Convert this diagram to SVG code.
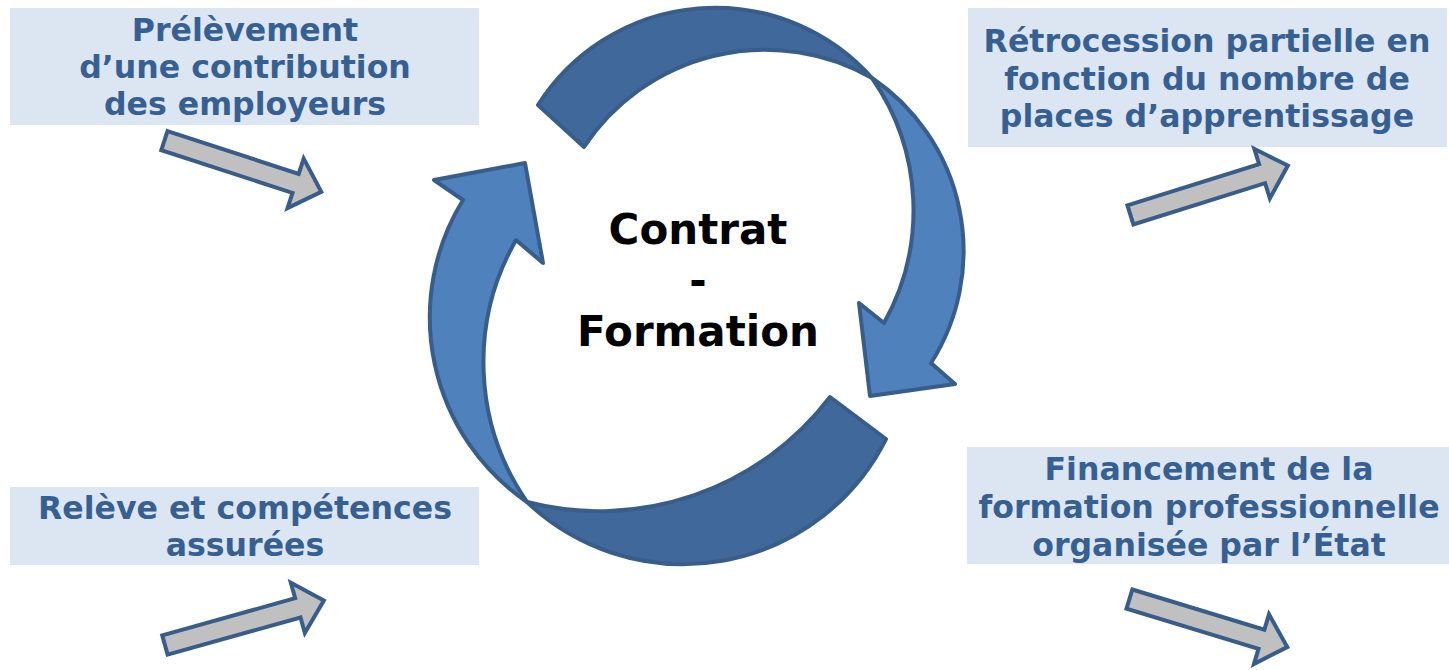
<svg xmlns="http://www.w3.org/2000/svg" width="1449" height="670" viewBox="0 0 1449 670">
<style>
.box{fill:#dce6f2}
.bt{font-family:"DejaVu Sans","Verdana",sans-serif;font-weight:bold;font-size:31.6px;fill:#376092;text-anchor:middle}
.ct{font-family:"DejaVu Sans","Verdana",sans-serif;font-weight:bold;font-size:42px;fill:#000;text-anchor:middle}
.dark{fill:#41689b;stroke:#385d8a;stroke-width:4;stroke-linejoin:round}
.light{fill:#4f81bd;stroke:#385d8a;stroke-width:4;stroke-linejoin:round}
.ga{fill:#c0c0c0;stroke:#385d8a;stroke-width:4;stroke-linejoin:miter}
</style>
<defs>
<path id="blk" d="M2,-10 L140,-10 L140,-26 L167,0 L140,26 L140,10 L2,10 Z"/>
</defs>
<g id="node-tl">
<rect class="box" x="10" y="8" width="469" height="117"/>
<text class="bt" x="245" y="41">Prélèvement</text>
<text class="bt" x="245" y="78">d’une contribution</text>
<text class="bt" x="245" y="115">des employeurs</text>
</g>
<g id="node-tr">
<rect class="box" x="968" y="8" width="479" height="139"/>
<text class="bt" x="1207" y="52">Rétrocession partielle en</text>
<text class="bt" x="1207" y="90">fonction du nombre de</text>
<text class="bt" x="1207" y="127">places d’apprentissage</text>
</g>
<g id="node-bl">
<rect class="box" x="10" y="487" width="469" height="78"/>
<text class="bt" x="245" y="519">Relève et compétences</text>
<text class="bt" x="245" y="556">assurées</text>
</g>
<g id="node-br">
<rect class="box" x="967" y="447" width="482" height="117"/>
<text class="bt" x="1209" y="480">Financement de la</text>
<text class="bt" x="1209" y="518">formation professionnelle</text>
<text class="bt" x="1209" y="556">organisée par l’État</text>
</g>
<g id="node-cycle">
<path class="dark" d="M538,105 A210,210 0 0 1 872,78 A217,217 0 0 0 584,147 Z"/>
<path class="light" d="M872,78 A209,209 0 0 1 931,363 L955,384 L870,396 L859,303 L884,323 A231,231 0 0 0 872,78 Z"/>
<path class="dark" d="M886,439 A227,227 0 0 1 527,502 A290,290 0 0 0 830,397 Z"/>
<path class="light" d="M527,502 A224,224 0 0 1 463,200 L434,180 L525,163 L543,263 L516,240 A246,246 0 0 0 527,502 Z"/>
</g>
<g id="node-center">
<text class="ct" x="698" y="244">Contrat</text>
<text class="ct" x="698" y="295">-</text>
<text class="ct" x="698" y="346">Formation</text>
</g>
<g id="connectors">
<use href="#blk" class="ga" transform="translate(162.5,140) rotate(18.06)"/>
<use href="#blk" class="ga" transform="translate(1128.5,215.5) rotate(-17.4)"/>
<use href="#blk" class="ga" transform="translate(163,645.5) rotate(-15.6)"/>
<use href="#blk" class="ga" transform="translate(1127.5,598.5) rotate(16.9)"/>
</g>
</svg>
